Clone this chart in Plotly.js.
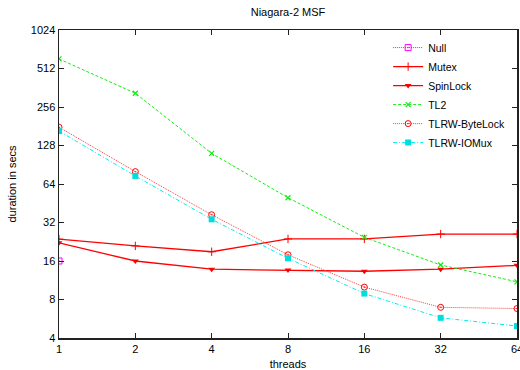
<!DOCTYPE html>
<html><head><meta charset="utf-8">
<script src="https://cdn.plot.ly/plotly-3.0.1.min.js"></script>
<style>html,body{margin:0;padding:0;background:#fff}</style>
</head><body><div id="chart" style="width:520px;height:370px"></div>
<script>
const threads = [1, 2, 4, 8, 16, 32, 64];
const nullThreads = [1];
const nullVals = [16];
const mutexVals = [23.7, 21.0, 18.9, 23.8, 23.8, 26.0, 26.0];
const spinVals = [22.2, 16.0, 13.8, 13.6, 13.3, 13.8, 14.8];
const tl2Vals = [608, 328, 111, 50.0, 24.5, 14.9, 11.0];
const byteVals = [178, 80, 36.8, 17.9, 10.0, 6.95, 6.8];
const iomuxVals = [166, 74, 33.9, 16.8, 8.9, 5.75, 4.96];
const yTicks = [4, 8, 16, 32, 64, 128, 256, 512, 1024];

const font = {family: 'Liberation Sans, Arial, sans-serif', size: 11, color: '#000'};
const traces = [
  {name: 'Null', x: nullThreads, y: nullVals, mode: 'lines+markers',
   line: {color: '#ff00ff', width: 1, dash: '1px,1px'},
   marker: {symbol: 'square-open-dot', size: 6, color: '#ff00ff', line: {width: 1}}},
  {name: 'Mutex', x: threads, y: mutexVals, mode: 'lines+markers',
   line: {color: '#ff0000', width: 1.3},
   marker: {symbol: 'cross-thin', size: 6, color: '#ff0000', line: {width: 1, color: '#ff0000'}}},
  {name: 'SpinLock', x: threads, y: spinVals, mode: 'lines+markers',
   line: {color: '#ff0000', width: 1.3},
   marker: {symbol: 'triangle-down', size: 6, color: '#ff0000'}},
  {name: 'TL2', x: threads, y: tl2Vals, mode: 'lines+markers',
   line: {color: '#11ee11', width: 1, dash: '3px,2px'},
   marker: {symbol: 'x-thin', size: 5, color: '#11ee11', line: {width: 1.2, color: '#11ee11'}}},
  {name: 'TLRW-ByteLock', x: threads, y: byteVals, mode: 'lines+markers',
   line: {color: '#ff4040', width: 1, dash: '1px,1px'},
   marker: {symbol: 'circle-open-dot', size: 6, color: '#ff0000', line: {width: 1}}},
  {name: 'TLRW-IOMux', x: threads, y: iomuxVals, mode: 'lines+markers',
   line: {color: '#00eeee', width: 1, dash: '4px,2px,1px,2px'},
   marker: {symbol: 'square', size: 6, color: '#00dddd'}}
];

const axisCommon = {
  showgrid: false, zeroline: false, showline: true, mirror: 'ticks',
  linecolor: '#222', linewidth: 1.5, ticks: 'inside', ticklen: 5,
  tickcolor: '#222', tickwidth: 1, tickfont: font, ticklabeloverflow: 'allow'
};

const layout = {
  width: 520, height: 370,
  margin: {l: 59, r: 3, t: 30, b: 32},
  paper_bgcolor: '#fff', plot_bgcolor: '#fff',
  font: font,
  title: {text: 'Niagara-2 MSF', font: {family: font.family, size: 11, color: '#000'},
          x: 0.5, xref: 'paper', y: 0.968, yref: 'container', yanchor: 'middle'},
  xaxis: Object.assign({}, axisCommon, {
    type: 'log', range: [0, Math.log10(64)], tickvals: threads, ticktext: threads.map(String),
    title: {text: 'threads', font: font, standoff: 6}
  }),
  yaxis: Object.assign({}, axisCommon, {
    type: 'log', range: [Math.log10(4), Math.log10(1024)], tickvals: yTicks, ticktext: yTicks.map(String),
    title: {text: 'duration in secs', font: font, standoff: 12}
  }),
  showlegend: true,
  legend: {x: 0.985, y: 0.99, xanchor: 'right', yanchor: 'top', bgcolor: 'rgba(0,0,0,0)',
           font: {family: font.family, size: 10.5, color: '#000'}, tracegroupgap: 0, itemwidth: 30}
};

Plotly.newPlot('chart', traces, layout, {displayModeBar: false, staticPlot: true});
</script></body></html>
